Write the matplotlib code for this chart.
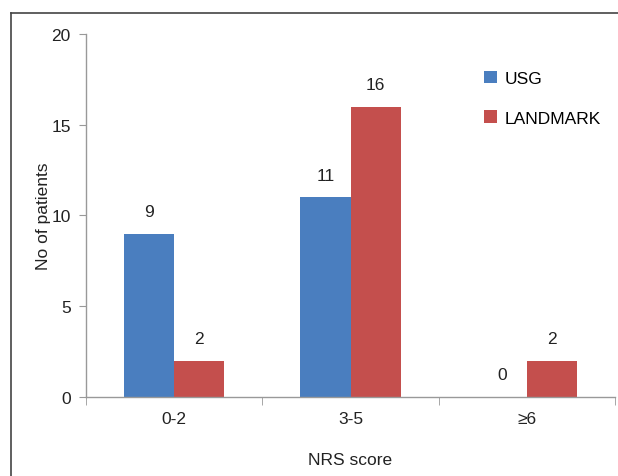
import numpy as np
import matplotlib.pyplot as plt
from matplotlib.lines import Line2D

plt.rcParams['font.family'] = ['Liberation Sans', 'DejaVu Sans']

categories = ["0-2", "3-5", "\u22656"]
usg = [9, 11, 0]
landmark = [2, 16, 2]
series_names = ["USG", "LANDMARK"]
colors = ["#4A7EBF", "#C44F4D"]

fs = 12.5
fig = plt.figure(figsize=(6.18, 4.77), dpi=100)
ax = fig.add_axes([86/618, 1-398/477, (615-86)/618, (398-35)/477])

x = np.arange(len(categories))
w = 0.285
b1 = ax.bar(x - w/2, usg, w, color=colors[0], label=series_names[0])
b2 = ax.bar(x + w/2, landmark, w, color=colors[1], label=series_names[1])

for bars, vals in ((b1, usg), (b2, landmark)):
    for r, v in zip(bars, vals):
        ax.text(r.get_x() + r.get_width()/2, v + 0.8, str(v),
                ha="center", va="bottom", fontsize=fs, color="#222222")

ax.set_xlim(-0.5, 2.5)
ax.set_ylim(0, 20)
ax.set_yticks([0, 5, 10, 15, 20])
ax.set_xticks(x)
ax.set_xticklabels(categories)
ax.set_xticks([-0.5, 0.5, 1.5, 2.5], minor=True)
ax.tick_params(axis="x", which="major", length=0, pad=10, labelsize=fs, colors="#222222")
ax.tick_params(axis="x", which="minor", length=6, direction="out", color="#999999")
ax.tick_params(axis="y", length=5, direction="out", color="#999999", labelsize=fs,
               labelcolor="#222222", pad=6)

for s in ("top", "right"):
    ax.spines[s].set_visible(False)
for s in ("left", "bottom"):
    ax.spines[s].set_color("#999999")
    ax.spines[s].set_linewidth(1.0)

ax.set_xlabel("NRS score", fontsize=fs, color="#222222", labelpad=19)
ax.set_ylabel("No of patients", fontsize=fs, color="#222222", labelpad=0)

leg = ax.legend(loc="upper left", bbox_to_anchor=(0.722, 0.942), frameon=False,
                fontsize=fs, handlelength=0.75, handleheight=0.75,
                handletextpad=0.45, labelspacing=1.4)

# outer frame lines
fig.add_artist(Line2D([11/618, 1.0], [1-14/477, 1-14/477], color="#444444", lw=1.2))
fig.add_artist(Line2D([11/618, 11/618], [0, 1-14/477], color="#444444", lw=1.2))

fig.savefig("out.png", dpi=100)
